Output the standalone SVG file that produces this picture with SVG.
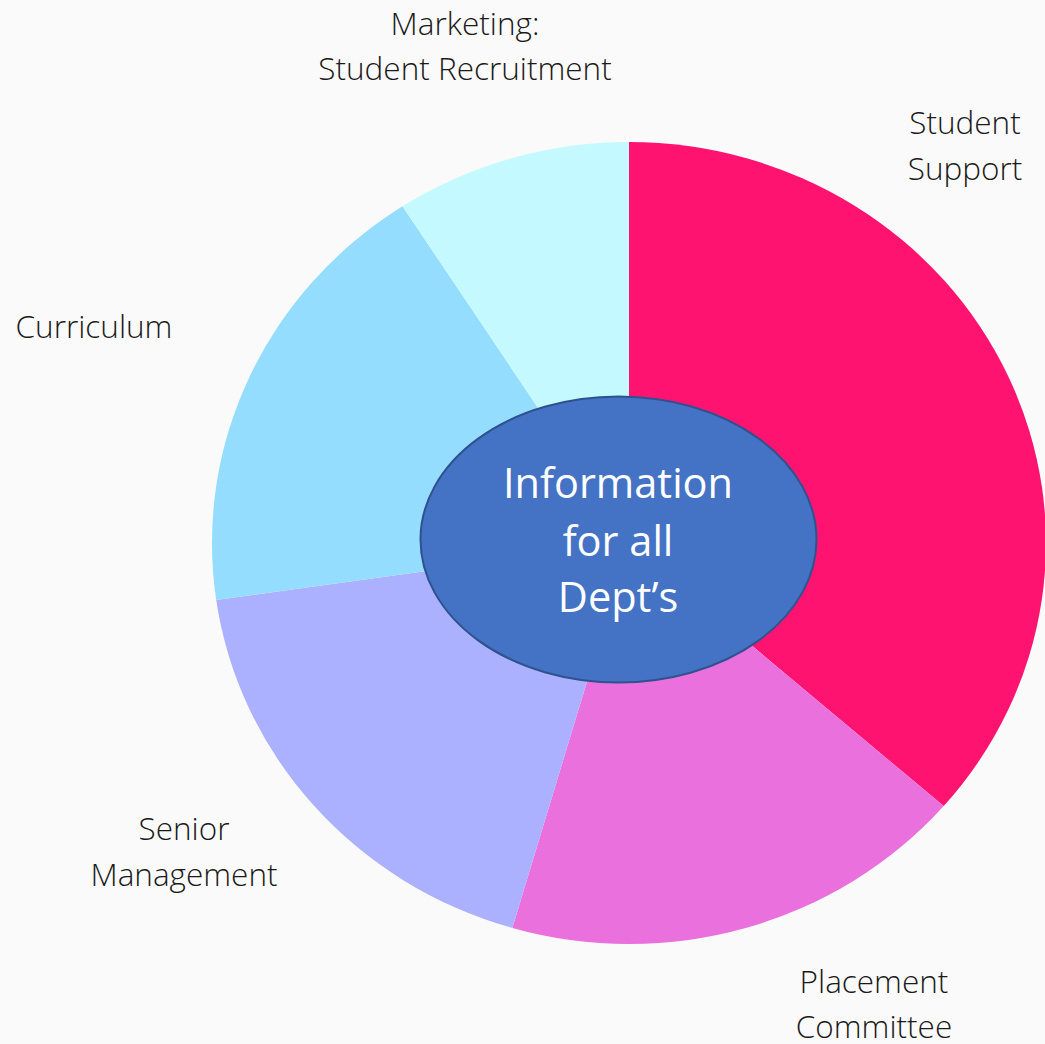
<svg xmlns="http://www.w3.org/2000/svg" width="1045" height="1044" viewBox="0 0 1045 1044">
<style>
.lbl{font-family:"Open Sans","Liberation Sans",sans-serif;font-weight:300;font-size:31.5px;fill:#1a1a1a;text-anchor:middle}
.ctr{font-family:"Open Sans","Liberation Sans",sans-serif;font-size:41.5px;fill:#ffffff;text-anchor:middle}
</style>
<rect x="0" y="0" width="1045" height="1044" fill="#fafafa"/>
<g id="student-support">
<path d="M629,543 L629,142 A417,401 0 0 1 943.7,806.1 Z" fill="#ff1370"/>
<text class="lbl" x="965" y="134">Student</text>
<text class="lbl" x="965" y="180">Support</text>
</g>
<g id="placement-committee">
<path d="M629,543 L943.7,806.1 A417,401 0 0 1 512.3,928 Z" fill="#e970dd"/>
<text class="lbl" x="874" y="993">Placement</text>
<text class="lbl" x="874" y="1038">Committee</text>
</g>
<g id="senior-management">
<path d="M629,543 L512.3,928 A417,401 0 0 1 216.2,599.9 Z" fill="#abb1ff"/>
<text class="lbl" x="184" y="840">Senior</text>
<text class="lbl" x="184" y="886">Management</text>
</g>
<g id="curriculum">
<path d="M629,543 L216.2,599.9 A417,401 0 0 1 402.5,206.3 Z" fill="#94ddff"/>
<text class="lbl" x="94" y="338">Curriculum</text>
</g>
<g id="marketing">
<path d="M629,543 L402.5,206.3 A417,401 0 0 1 629,142 Z" fill="#c4faff"/>
<text class="lbl" x="465" y="35">Marketing:</text>
<text class="lbl" x="465" y="80">Student Recruitment</text>
</g>
<g id="information-center">
<ellipse cx="618.5" cy="539.5" rx="198" ry="143" fill="#4472c4" stroke="#2f528f" stroke-width="2"/>
<text class="ctr" x="618" y="498">Information</text>
<text class="ctr" x="618" y="556">for all</text>
<text class="ctr" x="618" y="612">Dept’s</text>
</g>
</svg>
